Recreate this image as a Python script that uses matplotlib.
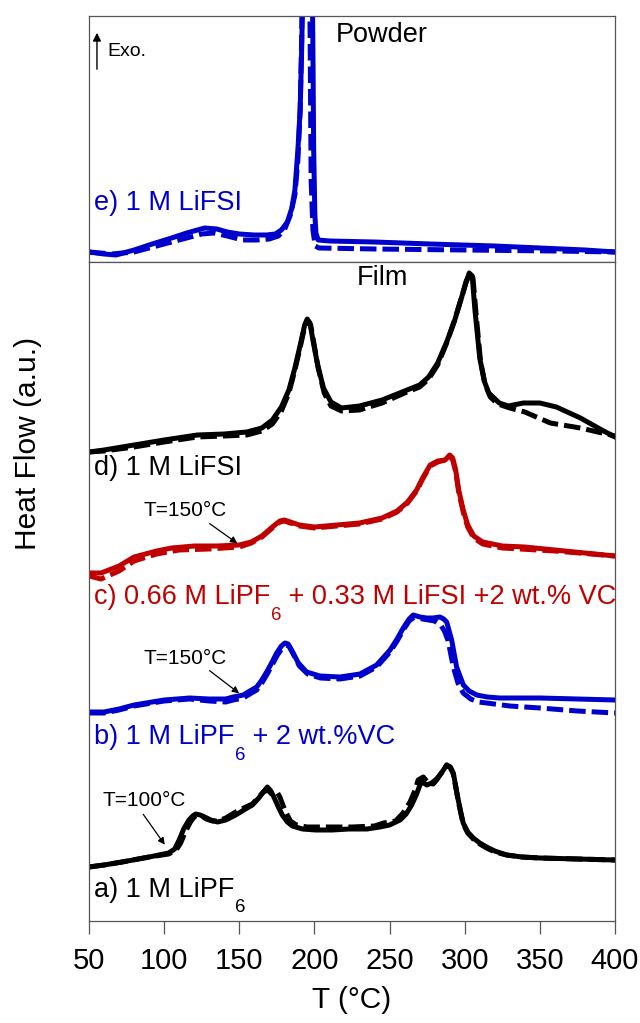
import matplotlib
matplotlib.use("Agg")
import matplotlib.pyplot as plt

plt.rcParams['font.family'] = ['Liberation Sans', 'DejaVu Sans']

BLACK = '#000000'
RED = '#C00000'
BLUE = '#0000CC'

# ---- Powder panel: e) 1 M LiFSI ----
e_solid_T = [50, 60, 68, 80, 92, 105, 115, 127, 135, 142, 150, 160, 168, 174, 178, 182, 185, 187, 189, 190.5,
             191.5, 192.5, 198.5, 199, 199.5, 200.3, 201, 202.5, 210, 240, 277, 320, 350, 380, 400]
e_solid_v = [10, 8, 7, 12, 18, 24, 29, 34, 33, 30, 28, 27, 27, 28, 32, 40, 54, 72, 112, 152,
             212, 290, 290, 212, 112, 47, 29, 22, 21, 20, 18, 16, 14, 12, 10]
e_dash_T = [50, 65, 80, 95, 110, 125, 133, 142, 152, 162, 170, 176, 180, 184, 187, 189, 190.5, 191.5, 192,
            196.8, 197.2, 197.8, 199, 200.5, 203, 240, 300, 360, 400]
e_dash_v = [10, 8, 10, 16, 22, 28, 29, 26, 22, 22, 23, 26, 32, 47, 67, 102, 152, 222, 290,
            290, 212, 82, 32, 16, 14, 13, 12, 11, 10]

# ---- Film panel ----
d_solid_T = [50, 60, 80, 100, 122, 140, 155, 165, 172, 178, 183, 187, 191, 193.5, 195.2, 197, 199, 202, 206, 211,
             218, 230, 245, 260, 270, 276, 282, 288, 293, 298, 301, 303, 305, 306.8, 310, 313, 316, 323, 329,
             339, 350, 361, 377, 390, 400]
d_solid_v = [469, 471, 476, 481, 486, 487, 489, 493, 501, 514, 531, 553, 579, 596, 602, 598, 581, 557, 533, 519,
             513, 515, 521, 530, 536, 544, 558, 579, 599, 624, 639, 648, 645, 611, 563, 540, 528, 518, 515,
             518, 518, 514, 503, 492, 484]
d_dash_T = [50, 60, 80, 100, 122, 140, 155, 165, 172, 178, 183, 187, 191, 193.5, 195.5, 197.5, 199.5, 202.5, 206.5,
            211, 218, 230, 245, 260, 270, 276, 282, 288, 293, 298, 301, 303.5, 305.5, 307.5, 310.5, 313.5, 317,
            322, 330, 340, 357, 377, 400]
d_dash_v = [469, 470, 474, 479, 484, 485, 486, 490, 497, 510, 528, 551, 577, 594, 600, 596, 579, 553, 528,
            515, 510, 511, 518, 528, 534, 542, 556, 578, 600, 624, 640, 646, 643, 608, 560, 537, 524,
            517, 513, 509, 498, 493, 485]

c_solid_T = [50, 58, 70, 80, 95, 105, 120, 135, 150, 158, 165, 172, 177, 180, 184, 190, 200, 215, 230, 245,
             255, 262, 268, 272, 277, 282, 287, 290, 292, 294, 296, 299, 302, 306, 312, 325, 340, 360, 380, 400]
c_solid_v = [348, 348, 355, 364, 370, 373, 375, 375, 376, 379, 385, 394, 400, 401, 399, 396, 394, 396, 398, 403,
             410, 419, 431, 443, 456, 460, 461, 466, 463, 451, 431, 411, 396, 385, 379, 375, 374, 371, 368, 365]
c_dash_T = [50, 58, 70, 80, 95, 110, 130, 150, 158, 165, 172, 177, 180, 184, 190, 200, 215, 230, 245,
            255, 262, 268, 272, 277, 282, 287, 290, 292, 294, 296, 299, 302, 306, 312, 325, 360, 400]
c_dash_v = [345, 342, 350, 360, 367, 371, 372, 374, 378, 384, 393, 399, 400, 398, 395, 393, 395, 397, 402,
            409, 418, 430, 442, 455, 459, 461, 465, 461, 449, 429, 409, 394, 383, 377, 373, 370, 365]

b_solid_T = [50, 60, 70, 80, 100, 117, 130, 141, 146, 152.7, 157, 161.6, 165, 168.2, 171.5, 174.9, 178, 180.4,
             182.5, 184.8, 189.3, 194.8, 203.7, 217, 230.3, 241.4, 250.3, 255, 259.1, 263, 265.8, 268, 270.2,
             274.7, 279, 283.5, 286, 288, 291.3, 294.6, 299.1, 303, 308, 315, 323.4, 350, 375, 400]
b_solid_v = [209, 209, 212, 216, 221, 223, 222, 222, 224, 226, 230, 234, 241, 249, 258, 268, 275, 278,
             277, 271, 258, 249, 245, 244, 247, 256, 271, 282, 293, 302, 306, 305, 304,
             303, 303, 304, 302, 299, 281, 254, 236, 230, 226, 224, 223, 223, 222, 221]
b_dash_T = [50, 60, 70, 80, 100, 117, 130, 141, 146, 152.7, 157, 161.6, 165, 168.2, 171.5, 175, 178.5, 181,
            183, 185.5, 190, 195.5, 204, 217, 230.3, 241.4, 250.3, 255, 259.1, 263, 266.5, 269, 272, 276,
            280, 284, 286.5, 289, 292.4, 295.5, 299, 304, 309, 314.6, 330, 350, 375, 400]
b_dash_v = [208, 208, 211, 215, 220, 222, 220, 219, 221, 223, 227, 231, 238, 246, 255, 265, 273, 276,
            275, 268, 255, 247, 243, 242, 245, 254, 269, 280, 291, 300, 304, 303, 302, 301,
            300, 296, 290, 280, 254, 238, 228, 222, 219, 218, 215, 213, 210, 208]

a_solid_T = [50, 60, 72, 90, 103, 107, 110, 113, 116.5, 119, 121, 124, 127, 131, 135.5, 141, 147.6, 153, 158.7,
             163, 166, 168.7, 171, 173, 176, 178.6, 182, 185.3, 192, 200.8, 212, 223, 235, 243.6, 250, 257,
             261, 264.7, 268, 270.2, 272, 274.7, 278, 281.3, 284.5, 288, 290.5, 292.4, 294, 295.7, 297.5,
             299, 302, 305.7, 310, 314.6, 320, 327.9, 338, 350, 375, 400]
a_solid_v = [54, 56, 59, 64, 68, 72, 81, 92, 101, 105, 107, 106, 104, 101, 99, 101, 106, 111, 116,
             123, 129, 134, 130, 124, 114, 106, 99, 95, 92, 91, 91, 92, 92, 94, 96, 101,
             107, 116, 127, 136, 139, 136, 138, 142, 148, 156, 154, 148, 135, 121, 108,
             98, 89, 83, 78, 74, 70, 66, 64, 63, 62, 61]
a_dash_T = [50, 60, 72, 90, 103, 108, 111, 114, 117.5, 120, 122, 125, 128, 132, 136, 141, 147.6, 153, 158.7,
            163, 166, 169, 171.5, 174, 175.5, 177, 180, 184, 188, 195, 210, 225, 240, 246, 254, 259, 263.6,
            267, 269, 272.4, 275.8, 279, 281.3, 284.5, 288, 290.5, 292.4, 294, 295.7, 297.5, 299, 302,
            305.7, 310, 314.6, 320, 327.9, 338, 350, 400]
a_dash_v = [54, 56, 59, 64, 67, 71, 78, 89, 99, 104, 106, 105, 102, 100, 100, 103, 109, 113, 117,
            124, 129, 131, 127, 126, 128, 124, 112, 100, 96, 94, 94, 94, 95, 98, 100, 108, 119,
            131, 141, 144, 138, 137, 141, 148, 156, 153, 147, 134, 120, 107, 97, 88,
            82, 77, 73, 69, 66, 64, 63, 61]

x_ticks = [50, 100, 150, 200, 250, 300, 350, 400]

LW = 3.6
DASH = (3.3, 1.2)
LBL = 19.5
SUB = 13.5
SMALL = 15

fig = plt.figure(figsize=(6.40, 10.23), dpi=100)
W, H = 640.0, 1023.0
ax_top = fig.add_axes([89 / W, 1 - 262 / H, 526 / W, 246 / H])
ax_bot = fig.add_axes([89 / W, 1 - 921 / H, 526 / W, 659 / H])

for ax in (ax_top, ax_bot):
    ax.set_xlim(50, 400)
    for s in ax.spines.values():
        s.set_color('#555555')
        s.set_linewidth(0.9)
    ax.set_yticks([])

ax_top.set_ylim(0, 246)
ax_bot.set_ylim(0, 659)
ax_top.set_xticks([])

# top panel curves
ax_top.plot(e_dash_T, e_dash_v, color=BLUE, lw=LW, ls=(0, DASH))
ax_top.plot(e_solid_T, e_solid_v, color=BLUE, lw=LW, solid_joinstyle='round')

# bottom panel curves
for (Ts, vs, Td, vd, col) in [
    (d_solid_T, d_solid_v, d_dash_T, d_dash_v, BLACK),
    (c_solid_T, c_solid_v, c_dash_T, c_dash_v, RED),
    (b_solid_T, b_solid_v, b_dash_T, b_dash_v, BLUE),
    (a_solid_T, a_solid_v, a_dash_T, a_dash_v, BLACK),
]:
    ax_bot.plot(Td, vd, color=col, lw=LW, ls=(0, DASH))
    ax_bot.plot(Ts, vs, color=col, lw=LW, solid_joinstyle='round')

ax_bot.set_xticks(x_ticks)
ax_bot.set_xticklabels([str(t) for t in x_ticks])
ax_bot.tick_params(axis='x', direction='out', length=9, width=0.9, color='#555555',
                   labelsize=21, pad=10)


def sub_label(ax, x, y, head, sub, tail, color):
    t1 = ax.text(x, y, head, ha='left', va='center', fontsize=LBL, color=color)
    t2 = ax.annotate(sub, xy=(1, 0.5), xycoords=t1, xytext=(1, -18), textcoords='offset pixels',
                     ha='left', va='center', fontsize=SUB, color=color)
    if tail:
        ax.annotate(tail, xy=(1, 0.5), xycoords=t2, xytext=(0, 18), textcoords='offset pixels',
                    ha='left', va='center', fontsize=LBL, color=color)


# top panel text
ax_top.text(245, 227, 'Powder', ha='center', va='center', fontsize=LBL)
ax_top.text(53, 59, 'e) 1 M LiFSI', ha='left', va='center', fontsize=LBL, color=BLUE)
ax_top.annotate('', xy=(55.3, 232), xytext=(55.3, 190),
                arrowprops=dict(arrowstyle='-|>', color='black', lw=1.0, mutation_scale=12))
ax_top.text(62, 210, 'Exo.', ha='left', va='center', fontsize=14)

# bottom panel text
ax_bot.text(245, 643, 'Film', ha='center', va='center', fontsize=LBL)
ax_bot.text(53, 453, 'd) 1 M LiFSI', ha='left', va='center', fontsize=LBL)
sub_label(ax_bot, 53, 324, 'c) 0.66 M LiPF', '6', ' + 0.33 M LiFSI +2 wt.% VC', RED)
sub_label(ax_bot, 53, 184, 'b) 1 M LiPF', '6', ' + 2 wt.%VC', BLUE)
sub_label(ax_bot, 53, 31, 'a) 1 M LiPF', '6', '', BLACK)

arr = dict(arrowstyle='-|>', color='black', lw=0.9, mutation_scale=10)
ax_bot.text(86, 411, 'T=150°C', ha='left', va='center', fontsize=SMALL)
ax_bot.annotate('', xy=(150.2, 376), xytext=(128.8, 399), arrowprops=arr)
ax_bot.text(86, 263, 'T=150°C', ha='left', va='center', fontsize=SMALL)
ax_bot.annotate('', xy=(151.4, 226), xytext=(128.8, 252), arrowprops=arr)
ax_bot.text(59, 120, 'T=100°C', ha='left', va='center', fontsize=SMALL)
ax_bot.annotate('', xy=(101.5, 74), xytext=(85, 109), arrowprops=arr)

fig.text(352 / W, 1 - 1000 / H, 'T (°C)', ha='center', va='center', fontsize=21.5)
fig.text(28 / W, 1 - 443 / H, 'Heat Flow (a.u.)', ha='center', va='center', rotation=90, fontsize=21.5)

fig.savefig('out.png', dpi=100)
